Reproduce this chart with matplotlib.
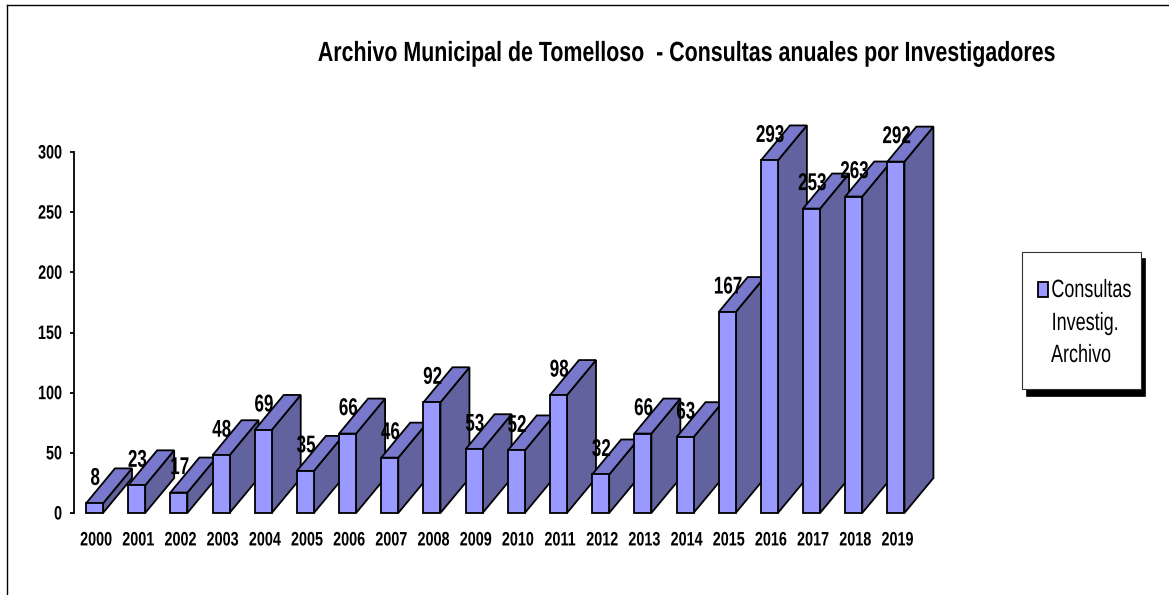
import matplotlib
matplotlib.use('Agg')
import matplotlib.pyplot as plt
from matplotlib.patches import Polygon, Rectangle
from matplotlib.lines import Line2D
from matplotlib.patheffects import AbstractPathEffect
from matplotlib.transforms import Affine2D

years = ['2000','2001','2002','2003','2004','2005','2006','2007','2008','2009',
         '2010','2011','2012','2013','2014','2015','2016','2017','2018','2019']
consultas = [8,23,17,48,69,35,66,46,92,53,52,98,32,66,63,167,293,253,263,292]
yticks = [0,50,100,150,200,250,300]

W,H = 1169,595
fuente = ['Liberation Sans','DejaVu Sans']
front_col = '#9999FF'
top_col = '#7878CC'
side_col = '#62629F'

# no hay fuente estrecha instalada: el texto sigue siendo texto, pero se comprime en horizontal
class Estrecho(AbstractPathEffect):
    def __init__(self,sx,anchor='center',shift=0):
        super().__init__()
        self.sx = sx
        self.anchor = anchor
        self.shift = shift
    def draw_path(self,renderer,gc,tpath,affine,rgbFace=None):
        ext = tpath.get_extents(affine)
        if self.anchor=='center':
            cx = (ext.x0+ext.x1)/2
        elif self.anchor=='right':
            cx = ext.x1
        else:
            cx = ext.x0
        t = affine+Affine2D().translate(-cx,0).scale(self.sx,1).translate(cx+self.shift,0)
        renderer.draw_path(gc,tpath,t,rgbFace)

fig = plt.figure(figsize=(W/100,H/100),dpi=100)
ax = fig.add_axes([74/W,1-513/H,865/W,361/H])
ax.set_xlim(-0.486,20.021)
ax.set_ylim(0,300)
ax.patch.set_visible(False)

# profundidad del efecto 3D, en unidades de los datos
dx = 29/42.18
dy = 35/1.2033
w = 17/42.18
lw = 1.3

for i,v in enumerate(consultas):
    z = 3+i*0.01
    l,r = i-w/2,i+w/2
    ax.add_patch(Polygon([(r,0),(r+dx,dy),(r+dx,v+dy),(r,v)],fc=side_col,ec='black',lw=lw,zorder=z,clip_on=False))
    ax.add_patch(Polygon([(l,v),(l+dx,v+dy),(r+dx,v+dy),(r,v)],fc=top_col,ec='black',lw=lw,zorder=z,clip_on=False))
    ax.bar(i,v,width=w,color=front_col,edgecolor='black',lw=lw,zorder=z,clip_on=False)

for i,v in enumerate(consultas):
    ax.annotate(str(v),(i,v),xytext=(0.5,18),textcoords='offset points',ha='center',va='center',
                fontsize=17.5,fontweight='bold',family=fuente,zorder=10,annotation_clip=False,
                path_effects=[Estrecho(0.7)])

for s in ['top','right','bottom']:
    ax.spines[s].set_visible(False)
ax.spines['left'].set_linewidth(lw)
ax.set_yticks(yticks)
ax.set_xticks(range(len(years)))
ax.set_xticklabels(years,fontsize=14,fontweight='bold',family=fuente,path_effects=[Estrecho(0.74,shift=1.5)])
ax.set_yticklabels([str(t) for t in yticks],fontsize=14,fontweight='bold',family=fuente,
                   path_effects=[Estrecho(0.74,'right')])
ax.tick_params(axis='x',length=0,pad=14)
ax.tick_params(axis='y',length=3,width=lw,pad=5.5)

fig.text(686/W,1-54/H,'Archivo Municipal de Tomelloso  - Consultas anuales por Investigadores',
         ha='center',va='center',fontsize=20,fontweight='bold',family=fuente,
         path_effects=[Estrecho(0.77)])

# marco exterior
fig.add_artist(Line2D([7/W,7/W],[0,1-5/H],color='black',lw=1))
fig.add_artist(Line2D([7/W,1],[1-5/H,1-5/H],color='black',lw=1))

# leyenda
def px_rect(x0,y0,x1,y1,**kw):
    fig.add_artist(Rectangle((x0/W,1-y1/H),(x1-x0)/W,(y1-y0)/H,transform=fig.transFigure,**kw))
px_rect(1026,258,1145,396,fc='black',ec='black',lw=0.5)
px_rect(1022,252,1141,389,fc='white',ec='#333333',lw=0.8)
px_rect(1038,282,1048,297,fc=front_col,ec='black',lw=lw)
for txt,y in zip(['Consultas','Investig.','Archivo'],[290,323,355]):
    fig.text(1051/W,1-y/H,txt,ha='left',va='center',fontsize=18,family=fuente,
             path_effects=[Estrecho(0.72,'left')])

fig.savefig('out.png',dpi=100)
